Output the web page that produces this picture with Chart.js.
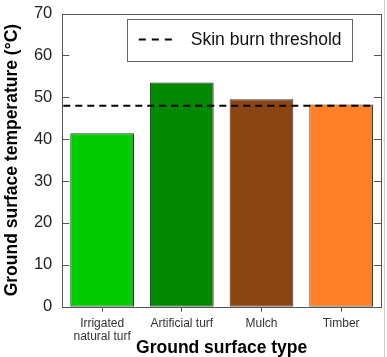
<!DOCTYPE html>
<html>
<head>
<meta charset="utf-8">
<script src="https://cdn.jsdelivr.net/npm/chart.js@4/dist/chart.umd.min.js"></script>
<style>
html,body{margin:0;padding:0;background:#fff;}
#wrap{width:387px;height:357px;position:relative;}
</style>
</head>
<body>
<div id="wrap"><canvas id="c" width="387" height="357"></canvas></div>
<script>
const categories = [["Irrigated","natural turf"], "Artificial turf", "Mulch", "Timber"];
const temperatures = [41.4, 53.5, 49.5, 48.3];
const barColors = ["#00cc00", "#008800", "#8b4513", "#ff8027"];
const threshold = 48;
const thresholdLabel = "Skin burn threshold";
const yTickMin = 0, yTickMax = 70, yTickStep = 10;
const xTitle = "Ground surface type";
const yTitle = "Ground surface temperature (°C)";

const FONT = "'Liberation Sans', Arial, sans-serif";
const AXIS = "#555";

const framePlugin = {
  id: 'frame',
  afterDatasetsDraw(chart) {
    const ctx = chart.ctx, a = chart.chartArea, y = chart.scales.y;
    ctx.save();
    // threshold line
    const ty = y.getPixelForValue(threshold);
    ctx.strokeStyle = '#000';
    ctx.lineWidth = 2;
    ctx.setLineDash([7, 5]);
    ctx.beginPath();
    ctx.moveTo(a.left + 1, ty);
    ctx.lineTo(a.right - 6, ty);
    ctx.stroke();
    ctx.setLineDash([]);
    // frame
    ctx.strokeStyle = AXIS;
    ctx.lineWidth = 1;
    ctx.strokeRect(Math.round(a.left) + 0.5, Math.round(a.top) + 0.5,
                   Math.round(a.right - a.left), Math.round(a.bottom - a.top));
    // inside y ticks on both sides
    y.ticks.forEach(t => {
      const py = Math.round(y.getPixelForValue(t.value)) + 0.5;
      ctx.beginPath();
      ctx.moveTo(a.left, py); ctx.lineTo(a.left + 7, py);
      ctx.moveTo(a.right, py); ctx.lineTo(a.right - 7, py);
      ctx.stroke();
    });
    // legend box
    const lx = a.left + 64.5, ly = a.top + 5;
    ctx.fillStyle = '#fff';
    ctx.fillRect(lx, ly, 225, 42);
    ctx.strokeStyle = '#666';
    ctx.strokeRect(Math.round(lx) + 0.5, Math.round(ly) + 0.5, 225, 42);
    const my = ly + 21;
    ctx.strokeStyle = '#000';
    ctx.lineWidth = 2;
    ctx.setLineDash([7, 6]);
    ctx.beginPath();
    ctx.moveTo(lx + 12, my); ctx.lineTo(lx + 47, my);
    ctx.stroke();
    ctx.setLineDash([]);
    ctx.fillStyle = '#111';
    ctx.font = "17.5px " + FONT;
    ctx.textBaseline = 'middle';
    ctx.textAlign = 'left';
    ctx.fillText(thresholdLabel, lx + 64, my + 1);
    // light outer image border on right
    ctx.strokeStyle = '#d0d0d0';
    ctx.lineWidth = 1;
    ctx.beginPath();
    ctx.moveTo(384.5, 0); ctx.lineTo(384.5, 357);
    ctx.stroke();
    ctx.restore();
  }
};

new Chart(document.getElementById('c'), {
  type: 'bar',
  data: {
    labels: categories,
    datasets: [{
      data: temperatures,
      backgroundColor: barColors,
      borderColor: '#333',
      borderWidth: 1,
      borderSkipped: false,
      categoryPercentage: 1.0,
      barPercentage: 0.8
    }]
  },
  options: {
    responsive: false,
    animation: false,
    devicePixelRatio: 1,
    layout: { padding: { left: 0, right: 6, top: 13.5, bottom: 0 } },
    plugins: { legend: { display: false }, tooltip: { enabled: false } },
    scales: {
      x: {
        grid: { display: true, drawOnChartArea: false, drawTicks: true, tickLength: 5, offset: false, color: AXIS },
        border: { display: false },
        ticks: { color: '#333', font: { family: FONT, size: 12, lineHeight: 1.1 }, padding: 5, maxRotation: 0, autoSkip: false },
        title: { display: true, text: xTitle, color: '#000', font: { family: FONT, size: 17.5, weight: 'bold', lineHeight: 1.0 }, padding: { top: 0, bottom: 0 } },
        afterFit(scale) { scale.height = 50.3; scale.paddingLeft = 0; scale.paddingRight = 0; }
      },
      y: {
        min: yTickMin, max: yTickMax,
        grid: { display: false, drawTicks: false },
        border: { display: false },
        ticks: { stepSize: yTickStep, color: '#222', font: { family: FONT, size: 16.5 }, padding: 10 },
        title: { display: true, text: yTitle, color: '#000', font: { family: FONT, size: 17.5, weight: 'bold', lineHeight: 1.2 }, padding: { top: 2, bottom: 0 } },
        afterFit(scale) { scale.width = 62.3; scale.paddingTop = 0; scale.paddingBottom = 0; }
      }
    }
  },
  plugins: [framePlugin]
});
</script>
</body>
</html>
